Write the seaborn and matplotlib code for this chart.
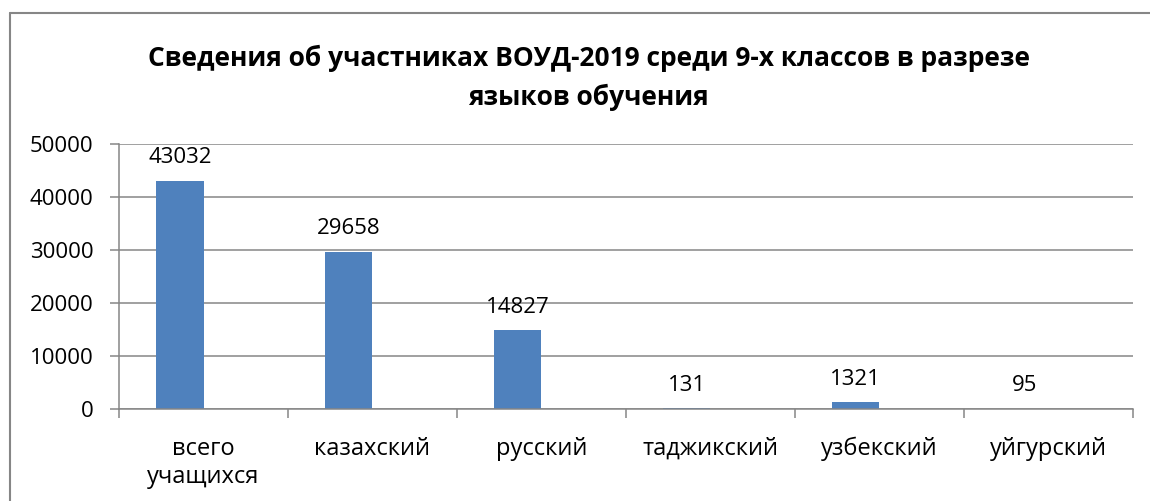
import numpy as np
import matplotlib.pyplot as plt
import seaborn as sns
import pandas as pd
from matplotlib.lines import Line2D

# data
categories = ["всего\nучащихся", "казахский", "русский", "таджикский", "узбекский", "уйгурский"]
values = [43032, 29658, 14827, 131, 1321, 95]
y_ticks = [0, 10000, 20000, 30000, 40000, 50000]
title = "Сведения об участниках ВОУД-2019 среди 9-х классов в разрезе\nязыков обучения"

sns.set_theme(style="white")
plt.rcParams['font.family'] = ['Open Sans', 'DejaVu Sans']
plt.rcParams['text.color'] = 'black'
plt.rcParams['xtick.labelcolor'] = 'black'
plt.rcParams['ytick.labelcolor'] = 'black'

grey = "#868686"
blue = "#4F81BD"

# Excel clustered chart with an empty second series -> bars sit left of centre
df = pd.DataFrame({
    "cat": categories * 2,
    "val": values + [0] * len(values),
    "series": ["2019"] * len(values) + ["empty"] * len(values),
})

fig = plt.figure(figsize=(11.5, 5.01), dpi=100)
ax = fig.add_axes([0.1035, 0.1836, 0.8815, 0.529])

sns.barplot(data=df, x="cat", y="val", hue="series", hue_order=["2019", "empty"],
            palette=[blue, blue], saturation=1, width=0.56, gap=0, linewidth=0,
            legend=False, ax=ax)

ax.bar_label(ax.containers[0], fontsize=16, padding=9, color="black")

ax.set_ylim(0, 50000)
ax.set_xlim(-0.5, len(categories) - 0.5)
ax.set_yticks(y_ticks)
ax.set_yticklabels([str(t) for t in y_ticks], fontsize=16)
ax.yaxis.grid(True, color=grey, linewidth=1.1)
ax.set_axisbelow(True)

# tick marks on category boundaries, labels in the centres
ax.set_xticks(np.arange(len(categories) + 1) - 0.5)
ax.set_xticklabels([])
ax.set_xticks(np.arange(len(categories)), minor=True)
ax.set_xticklabels(categories, minor=True, fontsize=17, linespacing=1.25)
ax.tick_params(axis="x", which="major", direction="out", length=6.5, color=grey, width=1.1, bottom=True)
ax.tick_params(axis="x", which="minor", length=0, pad=20, labelcolor="black")
ax.tick_params(axis="y", direction="out", length=6.5, color=grey, width=1.1, left=True, pad=12,
               labelcolor="black")
ax.set_xlabel("")
ax.set_ylabel("")

for s in ["top", "right"]:
    ax.spines[s].set_visible(False)
for s in ["left", "bottom"]:
    ax.spines[s].set_color(grey)
    ax.spines[s].set_linewidth(1.1)

fig.text(0.512, 0.845, title, ha="center", va="center", fontsize=19,
         fontweight="bold", linespacing=1.55, color="black")

# chart frame (only left and top edges are visible in the crop)
fig.add_artist(Line2D([0.0087, 0.0087], [0, 0.974], color=grey, lw=1.5))
fig.add_artist(Line2D([0.0087, 1], [0.974, 0.974], color=grey, lw=1.5))

fig.savefig("out.png", dpi=100)
